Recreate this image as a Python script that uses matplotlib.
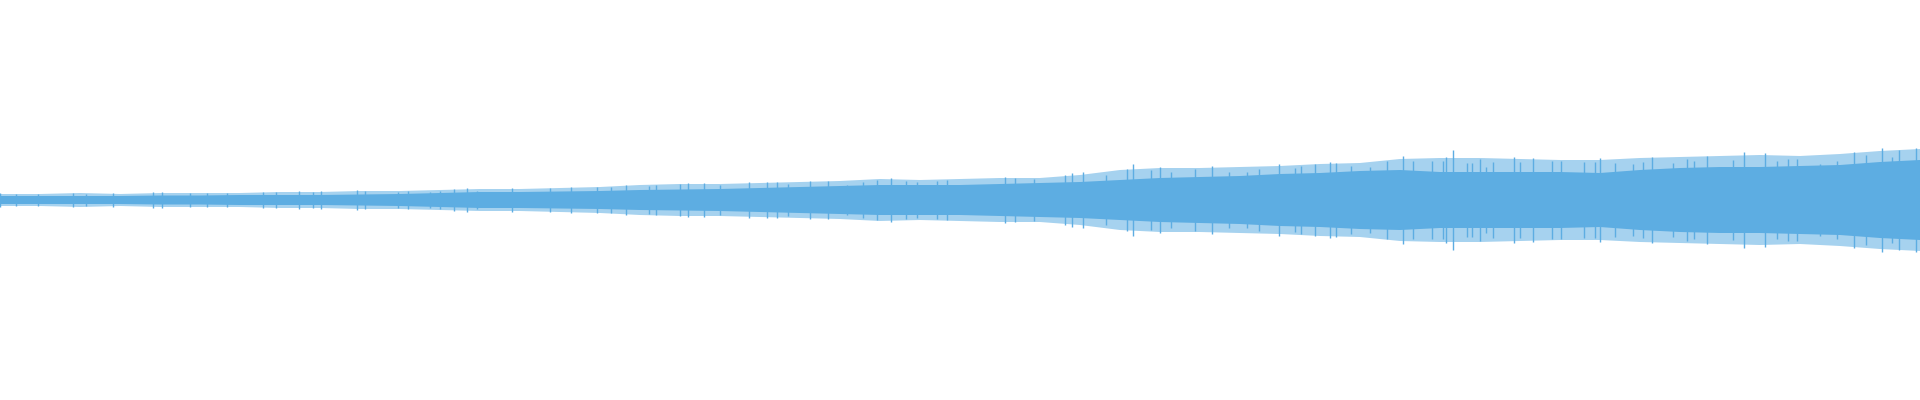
import matplotlib.pyplot as plt
import numpy as np

# waveform envelope (amplitude, full scale = 200),
# one value every 40 columns from 0 to 1920
core_amp = [4, 4, 4, 4, 4.5, 4.5, 5, 5, 5, 5.5, 6, 7, 8, 8, 8.5, 9,
            10, 10.5, 11, 12, 13, 14, 15, 15, 15, 16, 17, 18, 20, 22, 23, 24,
            26, 27, 29, 30, 28, 28, 28, 28, 27, 30, 32, 33, 33, 34, 35,
            38, 40]
peak_amp = [6, 6, 7, 6, 7, 7, 7, 8, 8, 9, 9, 10, 11, 11, 12, 13,
            15, 16, 16, 17, 18, 19, 21, 20, 21, 22, 22, 25, 30, 32, 32, 33,
            34, 36, 37, 41, 42, 42, 41, 40, 40, 42, 43, 44, 45, 44, 46,
            49, 51]

# single tall spikes (column, amplitude)
spike_x = [0, 16, 38, 73, 86, 113, 153, 162, 190, 207, 227, 263, 276, 299, 313,
           321, 357, 365, 398, 408, 430, 440, 454, 467, 477,
           512, 550, 571, 597, 611, 626, 649, 656, 680, 688, 704, 720, 749, 767,
           777, 788, 810, 828, 847, 863, 877, 891, 906, 917, 937, 947,
           1005, 1015, 1034, 1065, 1072, 1083, 1106, 1127, 1133, 1151, 1160, 1171,
           1195, 1212, 1229, 1247, 1259, 1279, 1295, 1301, 1315, 1330, 1336, 1351,
           1370, 1387, 1403, 1413, 1432,
           1443, 1446, 1453, 1467, 1472, 1480, 1486, 1493, 1514, 1520, 1533, 1552,
           1561, 1584, 1595, 1600, 1615, 1633, 1643, 1652, 1673, 1687, 1694, 1707,
           1733, 1744, 1765, 1777, 1788, 1797, 1820, 1837, 1854, 1866, 1882, 1892,
           1899, 1916]
spike_amp = [6.7, 6, 6, 6.7, 5.7, 6.7, 7.7, 7.7, 6.7, 6.7, 7.3, 7.7, 7.7, 9, 7.7,
             9, 10, 9, 7.7, 9, 8.3, 9.3, 11, 11.7, 9,
             11.7, 12.3, 12.7, 12.7, 12.7, 15, 14, 15, 15.7, 16.7, 16.7, 15, 17.7, 17.7,
             17.7, 16, 19, 19, 15, 17.7, 20, 21.7, 19, 17.7, 19, 20,
             22.7, 21.7, 21, 25, 26.7, 27.7, 25, 30.7, 36, 30, 33.3, 27.7,
             30.7, 34, 27.7, 28.3, 31, 36, 32.3, 34, 36, 37.7, 36.7, 34,
             33.3, 39, 44, 39, 39,
             39, 42.7, 50, 36.7, 37, 41, 33, 37.7, 43, 37.7, 41.7, 39,
             39, 37.7, 37.7, 41.7, 36.7, 36, 37.7, 43, 36.7, 41, 39, 44,
             40, 48, 46.7, 39, 41, 41, 36, 39, 48, 45, 51.7, 43,
             50, 51.7]

color = "#5DADE2"
x = np.arange(len(core_amp)) * 40
core = np.array(core_amp)
peak = np.array(peak_amp)
spikes = np.array(spike_amp)

fig = plt.figure(figsize=(19.2, 4), dpi=100)
ax = fig.add_axes([0, 0, 1, 1])

# hairy outer part, then the dense body of the wave, then the tall spikes
ax.fill_between(x, -peak, peak, color=color, alpha=0.55, linewidth=0)
ax.fill_between(x, -core, core, color=color, linewidth=0)
ax.vlines(spike_x, -spikes, spikes, color=color, linewidth=1.0)

ax.set_xlim(0, 1920)
ax.set_ylim(-200, 200)
ax.axis("off")

plt.savefig("out.png", dpi=100, facecolor="white")
